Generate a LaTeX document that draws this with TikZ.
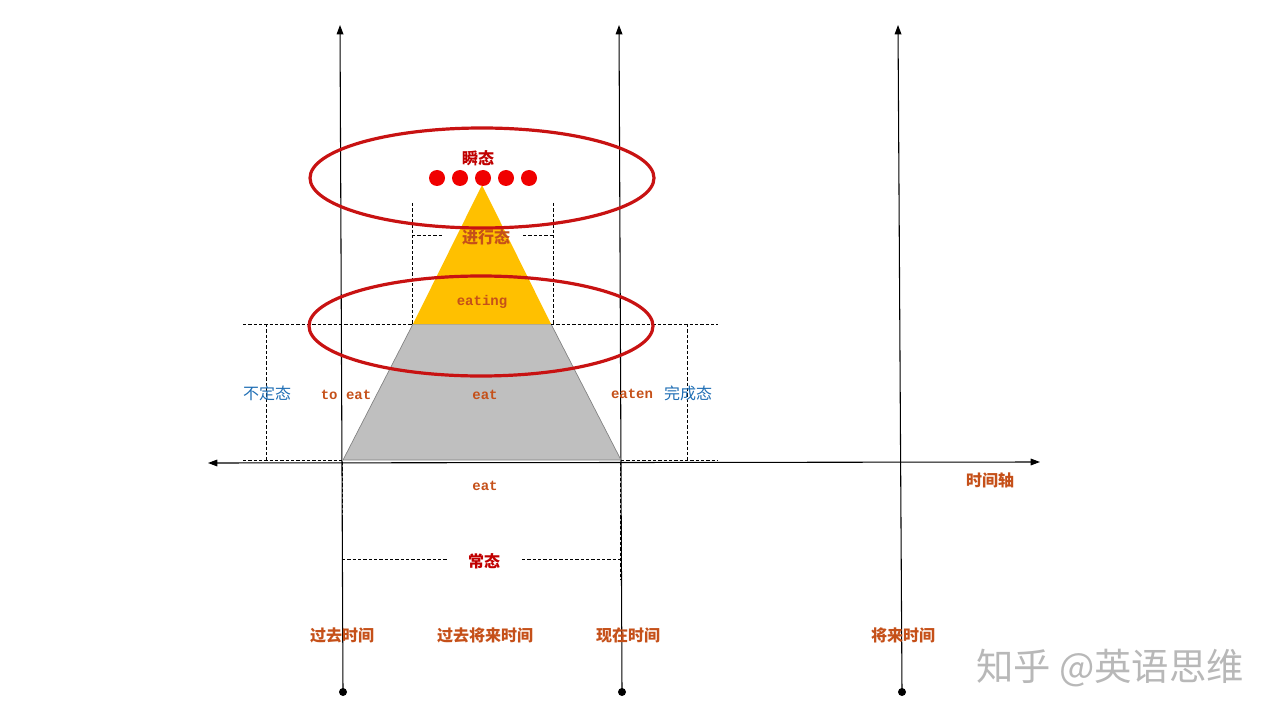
\documentclass[tikz,border=0pt]{standalone}
\usepackage{fontspec}
\newfontfamily\cjk{Noto Sans CJK SC}
\setmonofont{Liberation Mono}
\usetikzlibrary{arrows.meta,
                positioning}
\definecolor{labelorange}{RGB}{197,80,25}
\definecolor{statered}{RGB}{192,0,0}
\definecolor{stateblue}{RGB}{31,110,180}
\definecolor{ringred}{RGB}{200,18,18}
\definecolor{dotred}{RGB}{240,0,0}
\definecolor{pyramidgold}{RGB}{255,192,0}
\definecolor{pyramidgray}{RGB}{191,191,191}
\tikzset{timeaxis/.style = {draw, line width=0.8pt, -{Triangle[length=7pt,width=5pt]}}}
\tikzset{guide/.style = {draw, dash pattern=on 2.5pt off 1.5pt, line width=0.5pt}}
\tikzset{ring/.style = {draw=ringred, line width=2.4pt}}
\tikzset{timelabel/.style = {font=\cjk\bfseries\fontsize{12}{14}\selectfont, text=labelorange, inner sep=1pt}}
\tikzset{statelabel/.style = {font=\cjk\bfseries\fontsize{12}{14}\selectfont, text=statered, inner sep=1pt}}
\tikzset{sidelabel/.style = {font=\cjk\fontsize{12}{14}\selectfont, text=stateblue, inner sep=1pt}}
\tikzset{formlabel/.style = {font=\ttfamily\bfseries\fontsize{10.5}{12}\selectfont, text=labelorange, inner sep=1pt}}

\begin{document}
\begin{tikzpicture}[x=0.75pt, y=-0.75pt]

    \useasboundingbox (0,0) rectangle (1280,720);

    % three time lines
    \coordinate (pastB)    at (343,692);
    \coordinate (pastT)    at (340,25);
    \coordinate (presentB) at (622,692);
    \coordinate (presentT) at (619,25);
    \coordinate (futureB)  at (902,692);
    \coordinate (futureT)  at (898,25);
    \draw [timeaxis] (pastB) -- (pastT);
    \draw [timeaxis] (presentB) -- (presentT);
    \draw [timeaxis] (futureB) -- (futureT);
    \foreach \p in {pastB, presentB, futureB}
        \fill (\p) circle (4);

    % the pyramid
    \filldraw [fill=pyramidgray, draw=gray, line width=0.5pt]
        (343,460) -- (621,460) -- (551,324) -- (413,324) -- cycle;
    \fill [pyramidgold] (413,324) -- (551,324) -- (482,185) -- cycle;

    % horizontal time axis
    \coordinate (axisL) at (208,463);
    \coordinate (axisR) at (1040,462);
    \draw [timeaxis, {Triangle[length=7pt,width=5pt]}-{Triangle[length=7pt,width=5pt]}] (axisL) -- (axisR);

    % dots of the instant
    \foreach \x in {437,460,483,506,529}
        \fill [dotred] (\x,178) circle (8);

    % guides
    \draw [guide] (412,203) -- (412,324);
    \draw [guide] (553,203) -- (553,324);
    \draw [guide] (243,324) -- (413,324);
    \draw [guide] (551,324) -- (718,324);
    \draw [guide] (243,460) -- (343,460);
    \draw [guide] (621,460) -- (718,460);
    \draw [guide] (266,324) -- (266,460);
    \draw [guide] (687,324) -- (687,460);
    \draw [guide] (342,462) -- (342,580);
    \draw [guide] (620,462) -- (620,580);
    \draw [guide] (412,235) -- (443,235);
    \draw [guide] (523,235) -- (553,235);
    \draw [guide] (342,559) -- (447,559);
    \draw [guide] (522,559) -- (620,559);

    % rings
    \draw [ring] (482,178) ellipse [x radius=172, y radius=50];
    \draw [ring] (481,326) ellipse [x radius=172, y radius=50];

    % state labels
    \node [statelabel] (instant)    at (478,158) {瞬态};
    \node [statelabel, text=labelorange] (progress) at (486,237) {进行态};
    \node [statelabel] (habit)      at (484,561) {常态};
    \node [sidelabel] (infinitive) at (267,393) {不定态};
    \node [sidelabel] (perfect)    at (688,393) {完成态};

    % verb forms
    \node [formlabel] (eating) at (482,302) {eating};
    \node [formlabel] (toeat)  at (346,395) {to eat};
    \node [formlabel] (eatmid) at (485,395) {eat};
    \node [formlabel] (eaten)  at (632,394) {eaten};
    \node [formlabel] (eatlow) at (485,486) {eat};

    % time labels
    \node [timelabel] (past)       at (342,635) {过去时间};
    \node [timelabel] (pastfuture) at (485,635) {过去将来时间};
    \node [timelabel] (present)    at (628,635) {现在时间};
    \node [timelabel] (future)     at (903,635) {将来时间};
    \node [timelabel] (axisname)   at (990,480) {时间轴};

    % watermark
    \node [font=\cjk\fontsize{28}{30}\selectfont, text=black!28] (mark) at (1110,668) {知乎 @英语思维};

\end{tikzpicture}
\end{document}
